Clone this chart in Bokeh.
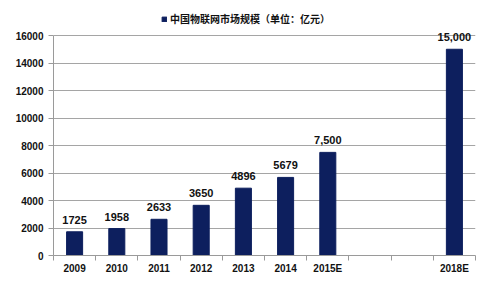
from bokeh.plotting import figure
from bokeh.models import (ColumnDataSource, Range1d, LinearAxis, FixedTicker, Legend, LegendItem)
from bokeh.core.properties import value
from bokeh.embed import file_html
from bokeh.resources import INLINE

# ---- data ----
axis_factors = ["2009", "2010", "2011", "2012", "2013", "2014", "2015E", "2016E", "2017E", "2018E"]
axis_labels = ["2009", "2010", "2011", "2012", "2013", "2014", "2015E", "", "", "2018E"]
categories = ["2009", "2010", "2011", "2012", "2013", "2014", "2015E", "2018E"]
values = [1725, 1958, 2633, 3650, 4896, 5679, 7500, 15000]
value_labels = ["1725", "1958", "2633", "3650", "4896", "5679", "7,500", "15,000"]
series_name = "中国物联网市场规模（单位：亿元）"
y_ticks = [0, 2000, 4000, 6000, 8000, 10000, 12000, 14000, 16000]
y_max = 16000

BAR = "#0d1f5e"
NUM_FONT = "Liberation Sans"
CJK_FONT = "Noto Sans CJK SC"

n = len(axis_factors)
centers = [i + 0.5 for i in range(n)]
xpos = [axis_factors.index(c) + 0.5 for c in categories]
src = ColumnDataSource(dict(x=xpos, val=values, lab=value_labels))

# headroom above the top gridline holds the title/legend row
p = figure(width=500, height=295, x_range=Range1d(0, n),
           y_range=Range1d(0, y_max * 247 / 220), output_backend="svg", toolbar_location=None,
           x_axis_location=None, y_axis_location="left",
           min_border_left=53, min_border_right=25, min_border_top=8, min_border_bottom=40)
p.outline_line_color = None
p.background_fill_color = "white"
p.border_fill_color = "white"

r = p.vbar(x="x", top="val", width=0.38, source=src, fill_color=BAR, line_color=BAR)

p.text(x="x", y="val", text="lab", source=src, text_align="center", text_baseline="bottom",
       y_offset=-8, text_font=value(NUM_FONT), text_font_size="11px", text_font_style="bold",
       text_color="#111111")

# y axis
ya = p.yaxis[0]
ya.ticker = FixedTicker(ticks=y_ticks)
ya.bounds = (0, y_max)
ya.minor_tick_line_color = None
ya.major_tick_in = 0
ya.major_tick_out = 5
ya.axis_line_color = "#9a9a9a"
ya.major_tick_line_color = "#9a9a9a"
ya.major_label_text_font = NUM_FONT
ya.major_label_text_font_size = "10px"
ya.major_label_text_font_style = "bold"
ya.major_label_text_color = "#111111"
ya.major_label_standoff = 5
p.ygrid.ticker = FixedTicker(ticks=y_ticks)
p.ygrid.grid_line_color = "#a5a5a5"
p.xgrid.grid_line_color = None

# x axis: tick marks at category boundaries, labels at centers
tick_axis = LinearAxis(ticker=FixedTicker(ticks=list(range(n + 1))),
                       major_label_overrides={i: "" for i in range(n + 1)},
                       major_label_text_font_size="1px", major_label_standoff=0,
                       major_tick_in=0, major_tick_out=5, minor_tick_line_color=None,
                       axis_line_color="#9a9a9a", major_tick_line_color="#9a9a9a")
p.add_layout(tick_axis, "below")
cat_axis = LinearAxis(ticker=FixedTicker(ticks=centers), axis_line_color=None,
                      major_tick_line_color=None, minor_tick_line_color=None,
                      major_tick_in=0, major_tick_out=0, major_label_standoff=2,
                      major_label_overrides={c: lab for c, lab in zip(centers, axis_labels)},
                      major_label_text_font=NUM_FONT, major_label_text_font_size="10px",
                      major_label_text_font_style="bold", major_label_text_color="#111111")
p.add_layout(cat_axis, "below")

# legend used as the chart title
legend = Legend(items=[LegendItem(label=series_name, renderers=[r])], location=(108, 229),
                orientation="horizontal", border_line_color=None, background_fill_alpha=0,
                label_text_font=CJK_FONT, label_text_font_size="10px", label_text_font_style="bold",
                label_text_color="#111111", glyph_width=6, glyph_height=6, padding=2, margin=0,
                label_standoff=3, label_height=12)
p.add_layout(legend, "center")

open("out.html", "w").write(file_html(p, INLINE))
